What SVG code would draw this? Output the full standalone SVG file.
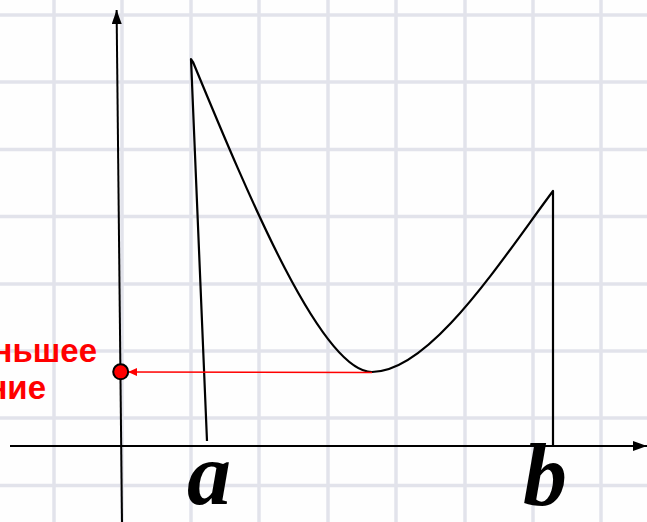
<svg xmlns="http://www.w3.org/2000/svg" width="647" height="522" viewBox="0 0 647 522">
<style>
.grid line{stroke:#e2e3eb;stroke-width:3.5}
.ax{stroke:#000;stroke-width:2;fill:none}
.crv{stroke:#000;stroke-width:2.2;fill:none;stroke-linejoin:round}
.lbl{font-family:"Liberation Serif","Times New Roman",serif;font-weight:bold;font-style:italic;font-size:88px;fill:#000;text-anchor:middle}
.red{font-family:"Liberation Sans",Arial,sans-serif;font-weight:bold;font-size:33px;fill:#ff0000;text-anchor:end}
</style>
<defs>
<marker id="ah" markerWidth="14" markerHeight="10" refX="14" refY="5" orient="auto" markerUnits="userSpaceOnUse">
<path d="M0,0 L14,5 L0,10 Z" fill="#000"/>
</marker>
<marker id="rh" markerWidth="9" markerHeight="8" refX="9" refY="4" orient="auto" markerUnits="userSpaceOnUse">
<path d="M0,0 L9,4 L0,8 Z" fill="#ff0000"/>
</marker>
</defs>
<rect width="647" height="522" fill="#fefefe"/>
<g id="grid" class="grid">
<line x1="54" y1="0" x2="54" y2="522"/>
<line x1="122" y1="0" x2="122" y2="522"/>
<line x1="191" y1="0" x2="191" y2="522"/>
<line x1="259" y1="0" x2="259" y2="522"/>
<line x1="328" y1="0" x2="328" y2="522"/>
<line x1="396" y1="0" x2="396" y2="522"/>
<line x1="465" y1="0" x2="465" y2="522"/>
<line x1="533" y1="0" x2="533" y2="522"/>
<line x1="601" y1="0" x2="601" y2="522"/>
<line x1="0" y1="15" x2="647" y2="15"/>
<line x1="0" y1="82" x2="647" y2="82"/>
<line x1="0" y1="149.5" x2="647" y2="149.5"/>
<line x1="0" y1="216.5" x2="647" y2="216.5"/>
<line x1="0" y1="284" x2="647" y2="284"/>
<line x1="0" y1="351" x2="647" y2="351"/>
<line x1="0" y1="418" x2="647" y2="418"/>
<line x1="0" y1="485.5" x2="647" y2="485.5"/>
</g>
<g id="axes">
<line class="ax" x1="122" y1="522" x2="116.6" y2="10" marker-end="url(#ah)"/>
<line class="ax" x1="10" y1="446" x2="647" y2="446" marker-end="url(#ah)"/>
</g>
<g id="function">
<path class="crv" d="M207,441 L191,59 L193,62 C250,200 322,372 372,372 C430,372 500,262 553,191 L553,446"/>
</g>
<g id="connectors">
<line x1="372" y1="372.5" x2="128" y2="372" stroke="#ff0000" stroke-width="1.6" marker-end="url(#rh)"/>
</g>
<g id="min-point">
<circle cx="120.7" cy="371.8" r="7.5" fill="#ff0000" stroke="#000" stroke-width="2"/>
</g>
<g id="min-label">
<text class="red" x="97" y="362">ньшее</text>
<text class="red" x="46" y="399">ние</text>
</g>
<g id="label-a"><text class="lbl" x="209" y="504">a</text></g>
<g id="label-b"><text class="lbl" x="545" y="505">b</text></g>
</svg>
